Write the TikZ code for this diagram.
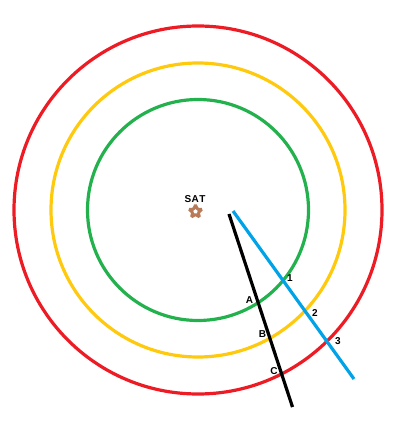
\documentclass[tikz,border=0pt]{standalone}
\usepackage{fontspec}
\setmainfont{Liberation Sans}
\usetikzlibrary{shapes.geometric}
\definecolor{pred}{HTML}{ED1C24}
\definecolor{pyellow}{HTML}{FFC90E}
\definecolor{pgreen}{HTML}{22B14C}
\definecolor{pblue}{HTML}{00A2E8}
\definecolor{pbrown}{HTML}{B97A57}
\begin{document}
\begin{tikzpicture}[x=1pt,y=-1pt,
  ring/.style={circle,draw,line width=3.2pt,inner sep=0pt},
  lbl/.style={font=\fontsize{10}{12}\selectfont\bfseries,inner sep=0pt},
  ray/.style={line width=3.2pt}]
\useasboundingbox (0,0) rectangle (415,435);
\coordinate (O) at (198,210);
\node[ring,draw=pred,minimum size=368pt] (red) at (O) {};
\node[ring,draw=pyellow,minimum size=294pt] (yellow) at (O) {};
\node[ring,draw=pgreen,minimum size=221pt] (green) at (O) {};
\node[star,star points=5,star point ratio=2.2,draw=pbrown,fill=white,line width=3pt,rounded corners=1pt,minimum size=13pt,inner sep=0pt] (sat) at (195.5,211.5) {};
\node[lbl] (satlbl) at (195,199) {S\kern0.5pt A\kern0.5pt T};
\coordinate (k1) at (229,214);
\coordinate (k2) at (292.5,407);
\coordinate (b1) at (233,211);
\coordinate (b2) at (354,379);
\draw[ray,black] (k1) -- (k2);
\draw[ray,pblue] (b1) -- (b2);
\node[lbl] (n1) at (290,278) {1};
\node[lbl] (n2) at (315,313) {2};
\node[lbl] (n3) at (338,341) {3};
\node[lbl] (lA) at (249.5,300.5) {A};
\node[lbl] (lB) at (262.5,334.5) {B};
\node[lbl] (lC) at (274,371) {C};
\end{tikzpicture}
\end{document}
